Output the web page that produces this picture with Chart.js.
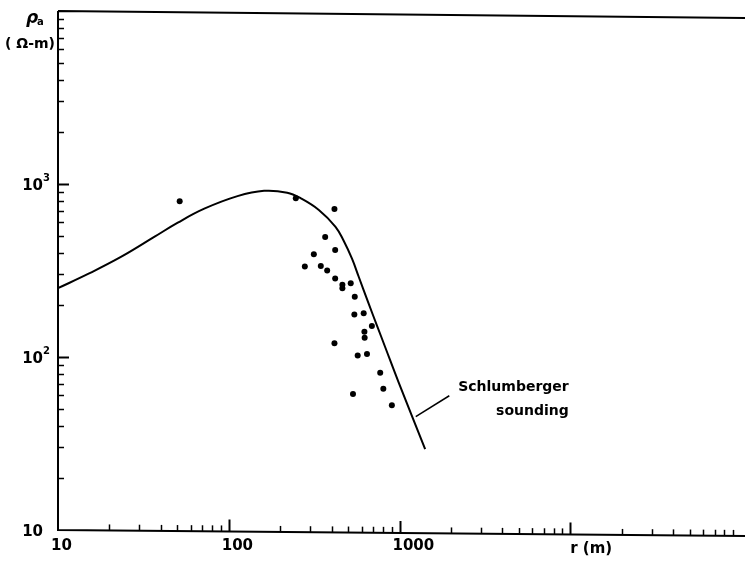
<!DOCTYPE html>
<html><head><meta charset="utf-8">
<script src="https://cdn.jsdelivr.net/npm/chart.js@4.4.1/dist/chart.umd.min.js"></script>
<style>html,body{margin:0;padding:0;background:#fff;} #wrap{width:745px;height:561px;}</style>
</head><body><div id="wrap"><canvas id="c" width="745" height="561"></canvas></div>
<script>
// Schlumberger sounding curve (r in m, apparent resistivity in ohm-m)
const curveR   = [10, 15, 23.5, 36.8, 50.3, 71.9, 112.5, 161, 220, 264, 337, 422, 471, 527, 577, 659, 738, 826, 987, 1413];
const curveRho = [250, 302, 380, 496, 598, 720, 851, 913, 891, 827, 708, 566, 470, 370, 291, 204, 152, 113.5, 71.6, 29.3];
// observed soundings (dots)
const obsR   = [51.6, 247, 416, 367, 420, 315, 279, 346, 377, 420, 463, 463, 518, 547, 544, 617, 689, 623, 625, 416, 569, 645, 771, 804, 534, 902];
const obsRho = [794, 826, 717, 494, 415, 393, 334, 336, 316, 284, 262, 250, 267, 223, 176, 179, 151, 140, 129, 120, 102, 104, 81, 65.6, 61.1, 52.6];
// annotation leader line
const leaderR   = [1245, 1957];
const leaderRho = [45.2, 59.7];
const annotationLines = ['Schlumberger', 'sounding'];
const annotationR = 9800;
const annotationRho = [67, 48.8];
// tick labels
const xTickValues = [10, 100, 1000];
const xTickLabels = ['10', '100', '1000'];
const xTitle = 'r (m)';
const xTitleAt = 10000;
const yTickValues = [10, 100, 1000];
const yTickBase = ['10', '10', '10'];
const yTickSup = ['', '2', '3'];
const yTitleSymbol = 'ρ';
const yTitleSub = 'a';
const yTitleUnit = '( Ω-m)';
const xMin = 10, xMax = 100000, yMin = 10, yMax = 10000;

function minorTicks(lo, hi) {
  const out = [];
  for (let d = lo; d < hi; d *= 10) for (let k = 2; k <= 9; k++) out.push(d * k);
  return out;
}
function majorTicks(lo, hi) {
  const out = [];
  for (let d = lo * 10; d < hi; d *= 10) out.push(d);
  return out;
}

const axesPlugin = {
  id: 'axesPlugin',
  afterDraw(chart) {
    const ctx = chart.ctx, a = chart.chartArea, xs = chart.scales.x, ys = chart.scales.y;
    const W = chart.width;
    const baseY = px => a.bottom + 6 * (px - a.left) / (W - a.left);
    ctx.save();
    ctx.strokeStyle = '#000'; ctx.fillStyle = '#000'; ctx.lineCap = 'butt';
    // frame
    ctx.lineWidth = 2;
    ctx.beginPath();
    ctx.moveTo(a.left, a.top); ctx.lineTo(W, a.top + 7);
    ctx.moveTo(a.left, a.top); ctx.lineTo(a.left, a.bottom);
    ctx.lineTo(W, baseY(W));
    ctx.stroke();
    // y ticks (inward)
    minorTicks(yMin, yMax).forEach(v => {
      const p = Math.round(ys.getPixelForValue(v)) + 0.5;
      ctx.lineWidth = 1.5; ctx.beginPath(); ctx.moveTo(a.left, p); ctx.lineTo(a.left + 6, p); ctx.stroke();
    });
    majorTicks(yMin, yMax).forEach(v => {
      const p = Math.round(ys.getPixelForValue(v)) + 0.5;
      ctx.lineWidth = 2; ctx.beginPath(); ctx.moveTo(a.left, p); ctx.lineTo(a.left + 11, p); ctx.stroke();
    });
    // x ticks (inward)
    minorTicks(xMin, xMax).forEach(v => {
      const p = Math.round(xs.getPixelForValue(v)) + 0.5;
      const b = baseY(p);
      ctx.lineWidth = 1.5; ctx.beginPath(); ctx.moveTo(p, b); ctx.lineTo(p, b - 6); ctx.stroke();
    });
    majorTicks(xMin, xMax).forEach(v => {
      const p = Math.round(xs.getPixelForValue(v)) + 0.5;
      const b = baseY(p);
      ctx.lineWidth = 2; ctx.beginPath(); ctx.moveTo(p, b); ctx.lineTo(p, b - 12); ctx.stroke();
    });
    // x tick labels
    ctx.font = 'bold 15px "DejaVu Sans"';
    ctx.textBaseline = 'middle'; ctx.textAlign = 'left';
    xTickValues.forEach((v, i) => {
      const p = xs.getPixelForValue(v);
      ctx.fillText(xTickLabels[i], p - 7, a.bottom + 16);
    });
    ctx.fillText(xTitle, xs.getPixelForValue(xTitleAt), a.bottom + 19);
    // y tick labels
    yTickValues.forEach((v, i) => {
      const p = ys.getPixelForValue(v);
      ctx.font = 'bold 15px "DejaVu Sans"'; ctx.textAlign = 'right';
      ctx.fillText(yTickBase[i], a.left - 15, p + 2);
      if (yTickSup[i]) {
        ctx.font = 'bold 10px "DejaVu Sans"'; ctx.textAlign = 'left';
        ctx.fillText(yTickSup[i], a.left - 15, p - 6);
      }
    });
    // y title
    ctx.textAlign = 'left'; ctx.textBaseline = 'alphabetic';
    ctx.font = 'italic bold 17px "DejaVu Sans"';
    ctx.fillText(yTitleSymbol, 26, a.top + 12);
    ctx.font = 'bold 10px "DejaVu Sans"';
    ctx.fillText(yTitleSub, 37, a.top + 14);
    ctx.font = 'bold 14px "DejaVu Sans"';
    ctx.textBaseline = 'middle';
    ctx.fillText(yTitleUnit, 5, a.top + 33);
    // annotation
    ctx.font = 'bold 14px "DejaVu Sans"'; ctx.textAlign = 'right';
    annotationLines.forEach((t, i) => {
      ctx.fillText(t, xs.getPixelForValue(annotationR), ys.getPixelForValue(annotationRho[i]));
    });
    ctx.restore();
  }
};

new Chart(document.getElementById('c'), {
  type: 'scatter',
  data: {
    datasets: [
      {
        type: 'line',
        data: curveR.map((r, i) => ({ x: r, y: curveRho[i] })),
        borderColor: '#000', borderWidth: 2, pointRadius: 0,
        tension: 0.4, fill: false
      },
      {
        type: 'scatter',
        data: obsR.map((r, i) => ({ x: r, y: obsRho[i] })),
        backgroundColor: '#000', borderColor: '#000', borderWidth: 0, pointRadius: 3
      },
      {
        type: 'line',
        data: leaderR.map((r, i) => ({ x: r, y: leaderRho[i] })),
        borderColor: '#000', borderWidth: 1.5, pointRadius: 0, fill: false
      }
    ]
  },
  options: {
    responsive: false, animation: false, devicePixelRatio: 1,
    layout: { padding: { left: 58, top: 11, right: 1, bottom: 31 } },
    plugins: { legend: { display: false }, tooltip: { enabled: false } },
    scales: {
      x: { type: 'logarithmic', min: xMin, max: xMax, display: false },
      y: { type: 'logarithmic', min: yMin, max: yMax, display: false }
    }
  },
  plugins: [axesPlugin]
});
</script></body></html>
